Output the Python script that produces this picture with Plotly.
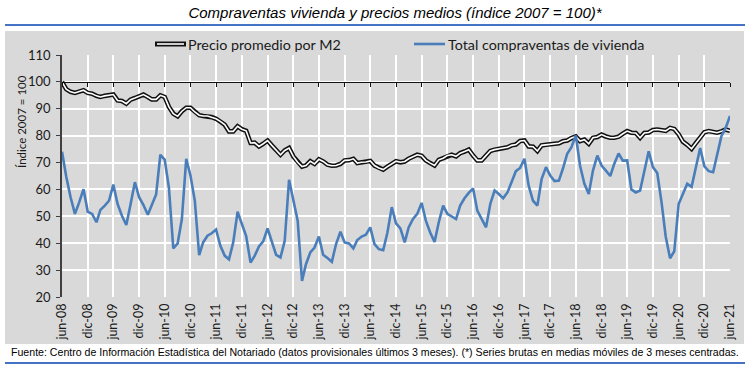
import pandas as pd
import plotly.graph_objects as go

# ---------------- data ----------------
start_month = "2008-06-01"
n_months = 157

precio = [
    100.0, 97.3, 96.3, 95.9, 96.4, 96.9, 95.9, 95.6, 94.8, 94.4, 94.8, 95.0,
    95.3, 93.1, 92.9, 91.9, 93.4, 94.0, 94.7, 95.3, 94.4, 93.5, 93.5, 95.0,
    94.4, 90.7, 88.2, 87.2, 89.1, 90.4, 90.4, 88.8, 87.6, 87.3, 87.3, 86.9,
    86.3, 85.3, 84.1, 81.6, 81.6, 83.5, 82.4, 81.8, 77.3, 77.4, 76.0, 77.0,
    78.2, 76.4, 74.5, 72.9, 74.5, 75.4, 72.3, 70.1, 68.5, 68.9, 70.5, 69.5,
    71.2, 70.4, 69.2, 68.8, 68.9, 69.5, 70.8, 70.9, 71.4, 69.8, 70.1, 70.2,
    70.6, 68.9, 68.0, 67.4, 68.5, 69.5, 70.5, 70.1, 70.4, 71.4, 72.3, 72.9,
    72.5, 70.8, 69.8, 68.9, 71.0, 71.6, 72.6, 72.9, 72.3, 73.5, 74.1, 74.8,
    72.6, 70.8, 70.8, 72.6, 74.3, 74.8, 75.0, 75.4, 75.7, 76.4, 76.7, 78.0,
    78.2, 76.0, 75.9, 74.3, 76.4, 76.6, 76.7, 77.0, 77.2, 77.9, 78.2, 79.1,
    79.7, 78.0, 78.5, 77.0, 79.2, 79.5, 80.4, 79.7, 79.2, 79.2, 79.6, 80.7,
    81.7, 81.1, 81.0, 79.2, 81.0, 81.2, 82.1, 82.3, 82.0, 81.8, 82.9, 82.5,
    80.5, 77.8, 76.6, 75.1, 77.2, 79.1, 81.3, 81.7, 81.3, 81.1, 81.6, 82.3,
    81.8,
]

compraventas = [
    74.0, 64.8, 57.1, 50.9, 55.2, 60.1, 51.7, 50.9, 47.8, 52.4, 54.0, 55.8,
    61.8, 54.6, 50.2, 46.8, 54.4, 62.7, 57.1, 54.2, 50.6, 54.4, 58.1, 72.9,
    71.1, 60.6, 38.1, 39.9, 49.0, 71.4, 65.2, 55.8, 35.6, 40.3, 42.8, 43.7,
    45.1, 39.1, 35.4, 34.0, 40.3, 51.7, 47.1, 42.7, 32.8, 35.3, 38.8, 40.7,
    45.5, 40.9, 35.7, 34.7, 40.9, 63.6, 55.8, 48.4, 26.0, 32.2, 36.6, 38.4,
    42.5, 35.7, 34.5, 33.1, 39.7, 44.3, 40.3, 39.9, 38.1, 41.2, 42.5, 43.2,
    45.9, 39.7, 37.8, 37.4, 44.0, 53.4, 47.4, 45.5, 40.3, 45.9, 49.0, 50.9,
    55.0, 48.4, 44.0, 40.5, 47.8, 54.0, 50.9, 50.0, 49.0, 54.0, 56.7, 58.7,
    60.4, 52.1, 49.0, 45.9, 54.6, 59.6, 58.3, 56.7, 59.0, 62.7, 66.8, 68.0,
    71.4, 61.4, 55.8, 54.0, 63.9, 68.3, 65.2, 63.1, 63.3, 67.7, 73.3, 75.7,
    80.1, 68.9, 62.1, 58.3, 67.0, 72.6, 68.9, 67.0, 65.0, 69.5, 73.4, 70.7,
    70.8, 60.0, 58.9, 59.6, 67.0, 74.2, 68.3, 66.1, 55.0, 42.5, 34.4, 37.0,
    54.6, 58.6, 62.1, 61.0, 68.2, 75.4, 68.6, 66.8, 66.4, 73.4, 79.8, 82.9,
    87.3,
]

tick_labels = [
    "jun-08", "dic-08", "jun-09", "dic-09", "jun-10", "dic-10", "jun-11",
    "dic-11", "jun-12", "dic-12", "jun-13", "dic-13", "jun-14", "dic-14",
    "jun-15", "dic-15", "jun-16", "dic-16", "jun-17", "dic-17", "jun-18",
    "dic-18", "jun-19", "dic-19", "jun-20", "dic-20", "jun-21",
]

series_names = ["Precio promedio por M2", "Total compraventas de vivienda"]
y_range = [20, 110]

months = pd.date_range(start_month, periods=n_months, freq="MS")
tick_dates = pd.date_range(start_month, periods=len(tick_labels), freq="6MS")
x_range = [months[0], months[-1]]

# ---------------- layout geometry ----------------
W, H = 750, 368
L, R, T, B = 62, 20, 55, 71
PW, PH = W - L - R, H - T - B


def px(x):
    return (x - L) / PW


def py(y):
    return (H - B - y) / PH


BLUE = "#4a7ebb"
LINE_BLUE = "#4472c4"
AXIS_FONT = "Lato, Carlito, Calibri, sans-serif"

fig = go.Figure()

# Price series: double line (black outer, white core)
fig.add_trace(go.Scatter(
    x=months, y=precio, mode="lines", name=series_names[0],
    line=dict(color="#111111", width=4.6), showlegend=False, hoverinfo="skip"))
fig.add_trace(go.Scatter(
    x=months, y=precio, mode="lines", name=series_names[0],
    line=dict(color="#ffffff", width=1.6), showlegend=False))
# Sales series
fig.add_trace(go.Scatter(
    x=months, y=compraventas, mode="lines", name=series_names[1],
    line=dict(color=BLUE, width=2.6), showlegend=False))
# invisible trace to carry the secondary axis (line at 100 with ticks)
fig.add_trace(go.Scatter(
    x=months, y=precio, xaxis="x2", mode="lines",
    line=dict(width=0), opacity=0, showlegend=False, hoverinfo="skip"))

shapes = [
    # grey panel
    dict(type="rect", xref="paper", yref="paper", x0=px(5), x1=px(744),
         y0=py(344), y1=py(31), fillcolor="#d9d9d9", line=dict(width=0),
         layer="below"),
    # title underline
    dict(type="line", xref="paper", yref="paper", x0=px(5), x1=px(745),
         y0=py(25), y1=py(25), line=dict(color=LINE_BLUE, width=2)),
    # footer underline
    dict(type="line", xref="paper", yref="paper", x0=px(5), x1=px(745),
         y0=py(363), y1=py(363), line=dict(color=LINE_BLUE, width=2)),
    # legend symbols
    dict(type="line", xref="paper", yref="paper", x0=px(155), x1=px(186),
         y0=py(44), y1=py(44), line=dict(color="#111111", width=5)),
    dict(type="line", xref="paper", yref="paper", x0=px(157), x1=px(184),
         y0=py(44), y1=py(44), line=dict(color="#ffffff", width=1.6)),
    dict(type="line", xref="paper", yref="paper", x0=px(414), x1=px(445),
         y0=py(44), y1=py(44), line=dict(color=BLUE, width=2.6)),
]

annotations = [
    dict(text=series_names[0], xref="paper", yref="paper", x=px(186), y=py(44),
         xanchor="left", yanchor="middle", showarrow=False,
         font=dict(family=AXIS_FONT, size=14.3, color="#1a1a1a")),
    dict(text=series_names[1], xref="paper", yref="paper", x=px(446), y=py(44),
         xanchor="left", yanchor="middle", showarrow=False,
         font=dict(family=AXIS_FONT, size=14.3, color="#1a1a1a")),
    dict(text="Índice 2007 = 100", xref="paper", yref="paper", x=px(22),
         y=py(122), xanchor="center", yanchor="middle", textangle=-90,
         showarrow=False, font=dict(family=AXIS_FONT, size=11.5, color="#1a1a1a")),
    dict(text="Fuente: Centro de Información Estadística del Notariado (datos "
              "provisionales últimos 3 meses). (*) Series brutas en medias "
              "móviles de 3 meses centradas.",
         xref="paper", yref="paper", x=px(375), y=py(352), xanchor="center",
         yanchor="middle", showarrow=False,
         font=dict(family="Liberation Sans, Arial, sans-serif",
                   size=10.6, color="#000000")),
]

fig.update_layout(
    width=W, height=H,
    margin=dict(l=L, r=R, t=T, b=B, pad=0),
    paper_bgcolor="#ffffff",
    plot_bgcolor="#d9d9d9",
    title=dict(text="Compraventas vivienda y precios medios (índice 2007 = 100)*",
               x=px(395), xref="paper", xanchor="center",
               y=1 - 13 / H, yref="container", yanchor="middle",
               font=dict(family="Liberation Sans, Arial, sans-serif", size=15,
                         color="#000000", style="italic")),
    xaxis=dict(type="date", range=x_range, tickvals=tick_dates,
               ticktext=tick_labels, tickangle=-90, showgrid=True,
               gridcolor="#ffffff", gridwidth=1.5, showline=False, ticks="",
               zeroline=False, ticklabelstandoff=3,
               tickfont=dict(family=AXIS_FONT, size=12.5, color="#1a1a1a")),
    xaxis2=dict(type="date", range=x_range, overlaying="x", anchor="free",
                position=(100 - y_range[0]) / (y_range[1] - y_range[0]),
                side="bottom", tickvals=tick_dates, showticklabels=False,
                showgrid=False, zeroline=False, showline=True,
                linecolor="#111111", linewidth=1.2, ticks="outside",
                ticklen=4, tickcolor="#111111", tickwidth=1.2),
    yaxis=dict(range=y_range, dtick=10, showgrid=True, gridcolor="#ffffff",
               gridwidth=1.5, zeroline=False, showline=True,
               linecolor="#404040", linewidth=1.5, ticks="outside", ticklen=4,
               tickcolor="#404040", tickwidth=1.2, ticklabelstandoff=3,
               tickfont=dict(family=AXIS_FONT, size=13, color="#1a1a1a")),
    shapes=shapes,
    annotations=annotations,
    showlegend=False,
)

fig.write_html("out.html",
               config={"displayModeBar": False},
               post_script="document.body.style.margin='0';"
                           "document.body.style.overflow='hidden';")
